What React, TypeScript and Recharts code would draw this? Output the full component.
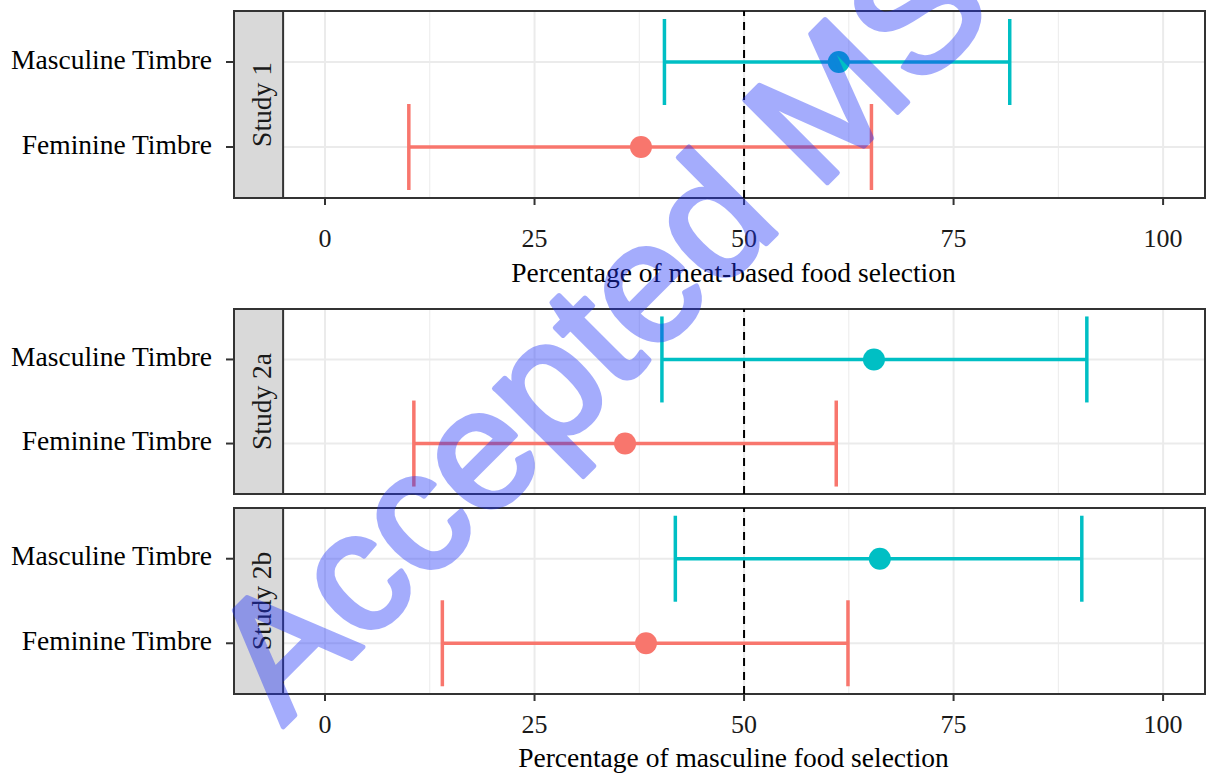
import React from 'react';
import {
  ScatterChart,
  Scatter,
  XAxis,
  YAxis,
  CartesianGrid,
  ErrorBar,
  ReferenceLine,
  ReferenceArea,
} from 'recharts';

// categories
const timbres = ['Feminine Timbre', 'Masculine Timbre'];
const studies = ['Study 1', 'Study 2a', 'Study 2b'];
const xTicks = [0, 25, 50, 75, 100];
const xMinor = [12.5, 37.5, 62.5, 87.5];
const xTitles = ['Percentage of meat-based food selection', '', 'Percentage of masculine food selection'];

// values (mean and interval ends), one per study
const mascMean = [61.3, 65.5, 66.2];
const mascLow = [40.5, 40.2, 41.8];
const mascHigh = [81.7, 90.9, 90.3];
const femMean = [37.7, 35.8, 38.3];
const femLow = [10.0, 10.6, 14.0];
const femHigh = [65.2, 61.0, 62.4];

const TEAL = '#00BFC4';
const SALMON = '#F8766D';
const SERIF = '"Liberation Serif", "Times New Roman", serif';

// strip sits inside the left part of the x range
const X_MIN = -10.86;
const STRIP_END = -5;
const X_MAX = 105;

const StripLabel = (props: any) => {
  const vb = props.viewBox;
  const cx = vb.x + vb.width / 2;
  const cy = vb.y + vb.height / 2;
  return (
    <text
      x={cx}
      y={cy}
      dy={12}
      transform={`rotate(-90 ${cx} ${cy})`}
      textAnchor="middle"
      fontFamily={SERIF}
      fontSize={27.5}
      fill="#1a1a1a"
    >
      {props.text}
    </text>
  );
};

const dot = (color: string) => (p: any) => <circle cx={p.cx} cy={p.cy} r={11} fill={color} />;

interface PanelProps {
  i: number;
  top: number;
  height: number;
  marginTop: number;
  axisHeight: number;
  tickMargin: number;
  titleOffset: number;
}

function Panel({ i, top, height, marginTop, axisHeight, tickMargin, titleOffset }: PanelProps) {
  const showAxis = axisHeight > 0;
  const masc = [{ x: mascMean[i], y: 2, err: [mascMean[i] - mascLow[i], mascHigh[i] - mascMean[i]] }];
  const fem = [{ x: femMean[i], y: 1, err: [femMean[i] - femLow[i], femHigh[i] - femMean[i]] }];
  return (
    <div style={{ position: 'absolute', left: 0, top }}>
      <ScatterChart
        width={1209}
        height={height}
        margin={{ top: marginTop, right: 4, left: 0, bottom: showAxis ? 0 : 6 }}
      >
        <CartesianGrid
          stroke="#ebebeb"
          strokeWidth={2}
          verticalValues={xTicks}
          horizontalValues={[1, 2]}
        />
        <CartesianGrid stroke="#ebebeb" strokeWidth={1} verticalValues={xMinor} horizontal={false} />
        <XAxis
          type="number"
          dataKey="x"
          domain={[X_MIN, X_MAX]}
          allowDataOverflow
          ticks={xTicks}
          hide={!showAxis}
          height={axisHeight}
          axisLine={false}
          tickSize={7}
          tickMargin={tickMargin}
          tickLine={{ stroke: '#333', strokeWidth: 2 }}
          tick={{ fill: '#1a1a1a', fontSize: 26, fontFamily: SERIF }}
          label={
            showAxis
              ? {
                  value: xTitles[i],
                  position: 'insideBottom',
                  offset: titleOffset,
                  dx: 14,
                  fill: '#000',
                  fontSize: 27.5,
                  fontFamily: SERIF,
                }
              : undefined
          }
        />
        <YAxis
          type="number"
          dataKey="y"
          domain={[0.4, 2.6]}
          ticks={[1, 2]}
          tickFormatter={(v: number) => timbres[v - 1]}
          width={234}
          axisLine={false}
          tickSize={8}
          tickMargin={14}
          tickLine={{ stroke: '#333', strokeWidth: 2 }}
          tick={{ fill: '#000', fontSize: 27.5, fontFamily: SERIF, dy: -3 }}
        />
        <ReferenceLine x={50} stroke="#000" strokeWidth={2} strokeDasharray="8 6" />
        <Scatter data={masc} fill={TEAL} shape={dot(TEAL)} isAnimationActive={false}>
          <ErrorBar dataKey="err" direction="x" width={43} stroke={TEAL} strokeWidth={3.5} />
        </Scatter>
        <Scatter data={fem} fill={SALMON} shape={dot(SALMON)} isAnimationActive={false}>
          <ErrorBar dataKey="err" direction="x" width={43} stroke={SALMON} strokeWidth={3.5} />
        </Scatter>
        <ReferenceArea
          x1={X_MIN}
          x2={STRIP_END}
          fill="#d9d9d9"
          fillOpacity={1}
          stroke="#333"
          strokeWidth={2}
          label={<StripLabel text={studies[i]} />}
        />
        <ReferenceArea x1={X_MIN} x2={X_MAX} fill="none" stroke="#333" strokeWidth={2} />
      </ScatterChart>
    </div>
  );
}

export default function App() {
  return (
    <div style={{ position: 'absolute', left: 0, top: 0, width: 1209, height: 774, background: '#fff', overflow: 'hidden' }}>
      <Panel i={0} top={0} height={290} marginTop={11} axisHeight={92} tickMargin={24} titleOffset={8} />
      <Panel i={1} top={300} height={200} marginTop={9} axisHeight={0} tickMargin={0} titleOffset={0} />
      <Panel i={2} top={500} height={274} marginTop={8} axisHeight={80} tickMargin={14} titleOffset={7} />
      {/* watermark over the whole figure */}
      <svg width={1209} height={774} style={{ position: 'absolute', left: 0, top: 0, pointerEvents: 'none' }}>
        <g opacity={0.4}>
          <text
            x={283}
            y={727}
            transform="rotate(-45 283 727)"
            fontFamily='"Liberation Sans", Arial, sans-serif'
            fontSize={170}
            fill="rgb(30,50,250)"
            stroke="rgb(30,50,250)"
            strokeWidth={5}
            strokeLinejoin="round"
          >
            Accepted MS
          </text>
        </g>
      </svg>
    </div>
  );
}
